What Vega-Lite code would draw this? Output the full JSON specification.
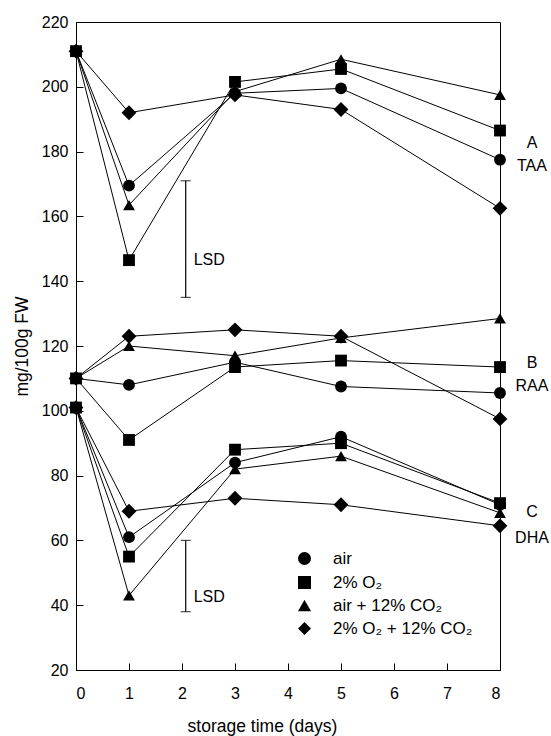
{
  "$schema": "https://vega.github.io/schema/vega-lite/v6.json",
  "width": 424,
  "height": 648,
  "autosize": {"type": "none"},
  "padding": {"left": 76, "top": 22, "right": 51, "bottom": 66},
  "background": "white",
  "config": {
    "font": "Liberation Sans",
    "view": {"stroke": "black", "strokeWidth": 1},
    "axis": {"grid": false, "domainColor": "black", "tickColor": "black", "labelColor": "black", "titleColor": "black", "titleFontWeight": "normal", "labelFontSize": 16, "titleFontSize": 17.5, "tickSize": -7},
    "legend": {"labelFontSize": 17, "labelLimit": 300}
  },
  "datasets": {
    "series": [
      {"m": "TAA", "t": "air", "day": 0, "v": 211},
      {"m": "TAA", "t": "air", "day": 1, "v": 169.5},
      {"m": "TAA", "t": "air", "day": 3, "v": 198},
      {"m": "TAA", "t": "air", "day": 5, "v": 199.5},
      {"m": "TAA", "t": "air", "day": 8, "v": 177.5},
      {"m": "TAA", "t": "2% O₂", "day": 0, "v": 211},
      {"m": "TAA", "t": "2% O₂", "day": 1, "v": 146.5},
      {"m": "TAA", "t": "2% O₂", "day": 3, "v": 201.5},
      {"m": "TAA", "t": "2% O₂", "day": 5, "v": 205.5},
      {"m": "TAA", "t": "2% O₂", "day": 8, "v": 186.5},
      {"m": "TAA", "t": "air + 12% CO₂", "day": 0, "v": 211},
      {"m": "TAA", "t": "air + 12% CO₂", "day": 1, "v": 163.5},
      {"m": "TAA", "t": "air + 12% CO₂", "day": 3, "v": 198.5},
      {"m": "TAA", "t": "air + 12% CO₂", "day": 5, "v": 208.5},
      {"m": "TAA", "t": "air + 12% CO₂", "day": 8, "v": 197.5},
      {"m": "TAA", "t": "2% O₂ + 12% CO₂", "day": 0, "v": 211},
      {"m": "TAA", "t": "2% O₂ + 12% CO₂", "day": 1, "v": 192},
      {"m": "TAA", "t": "2% O₂ + 12% CO₂", "day": 3, "v": 197.5},
      {"m": "TAA", "t": "2% O₂ + 12% CO₂", "day": 5, "v": 193},
      {"m": "TAA", "t": "2% O₂ + 12% CO₂", "day": 8, "v": 162.5},
      {"m": "RAA", "t": "air", "day": 0, "v": 110},
      {"m": "RAA", "t": "air", "day": 1, "v": 108},
      {"m": "RAA", "t": "air", "day": 3, "v": 115},
      {"m": "RAA", "t": "air", "day": 5, "v": 107.5},
      {"m": "RAA", "t": "air", "day": 8, "v": 105.5},
      {"m": "RAA", "t": "2% O₂", "day": 0, "v": 110},
      {"m": "RAA", "t": "2% O₂", "day": 1, "v": 91},
      {"m": "RAA", "t": "2% O₂", "day": 3, "v": 113.5},
      {"m": "RAA", "t": "2% O₂", "day": 5, "v": 115.5},
      {"m": "RAA", "t": "2% O₂", "day": 8, "v": 113.5},
      {"m": "RAA", "t": "air + 12% CO₂", "day": 0, "v": 110},
      {"m": "RAA", "t": "air + 12% CO₂", "day": 1, "v": 120},
      {"m": "RAA", "t": "air + 12% CO₂", "day": 3, "v": 117},
      {"m": "RAA", "t": "air + 12% CO₂", "day": 5, "v": 122.5},
      {"m": "RAA", "t": "air + 12% CO₂", "day": 8, "v": 128.5},
      {"m": "RAA", "t": "2% O₂ + 12% CO₂", "day": 0, "v": 110},
      {"m": "RAA", "t": "2% O₂ + 12% CO₂", "day": 1, "v": 123},
      {"m": "RAA", "t": "2% O₂ + 12% CO₂", "day": 3, "v": 125},
      {"m": "RAA", "t": "2% O₂ + 12% CO₂", "day": 5, "v": 123},
      {"m": "RAA", "t": "2% O₂ + 12% CO₂", "day": 8, "v": 97.5},
      {"m": "DHA", "t": "air", "day": 0, "v": 101},
      {"m": "DHA", "t": "air", "day": 1, "v": 61},
      {"m": "DHA", "t": "air", "day": 3, "v": 84},
      {"m": "DHA", "t": "air", "day": 5, "v": 92},
      {"m": "DHA", "t": "air", "day": 8, "v": 71},
      {"m": "DHA", "t": "2% O₂", "day": 0, "v": 101},
      {"m": "DHA", "t": "2% O₂", "day": 1, "v": 55},
      {"m": "DHA", "t": "2% O₂", "day": 3, "v": 88},
      {"m": "DHA", "t": "2% O₂", "day": 5, "v": 90},
      {"m": "DHA", "t": "2% O₂", "day": 8, "v": 71.5},
      {"m": "DHA", "t": "air + 12% CO₂", "day": 0, "v": 101},
      {"m": "DHA", "t": "air + 12% CO₂", "day": 1, "v": 43},
      {"m": "DHA", "t": "air + 12% CO₂", "day": 3, "v": 82},
      {"m": "DHA", "t": "air + 12% CO₂", "day": 5, "v": 86},
      {"m": "DHA", "t": "air + 12% CO₂", "day": 8, "v": 68.5},
      {"m": "DHA", "t": "2% O₂ + 12% CO₂", "day": 0, "v": 101},
      {"m": "DHA", "t": "2% O₂ + 12% CO₂", "day": 1, "v": 69},
      {"m": "DHA", "t": "2% O₂ + 12% CO₂", "day": 3, "v": 73},
      {"m": "DHA", "t": "2% O₂ + 12% CO₂", "day": 5, "v": 71},
      {"m": "DHA", "t": "2% O₂ + 12% CO₂", "day": 8, "v": 64.5}
    ],
    "lsd": [
      {"day": 2.07, "lo": 135, "hi": 171, "ty": 146.5, "label": "LSD"},
      {"day": 2.07, "lo": 38, "hi": 60, "ty": 42.6, "label": "LSD"}
    ],
    "tags": [
      {"day": 8, "v": 182.7, "label": "A"},
      {"day": 8, "v": 175.6, "label": "TAA"},
      {"day": 8, "v": 114.8, "label": "B"},
      {"day": 8, "v": 107.7, "label": "RAA"},
      {"day": 8, "v": 68.8, "label": "C"},
      {"day": 8, "v": 60.7, "label": "DHA"}
    ]
  },
  "layer": [
    {
      "data": {"name": "series"},
      "mark": {"type": "line", "color": "black", "strokeWidth": 1},
      "encoding": {
        "x": {"field": "day", "type": "quantitative", "scale": {"domain": [0, 8], "nice": false},
          "axis": {"values": [0, 1, 2, 3, 4, 5, 6, 7, 8], "title": "storage time (days)", "labelPadding": 22, "titlePadding": 16, "titleX": 186, "format": "d"}},
        "y": {"field": "v", "type": "quantitative", "scale": {"domain": [20, 220], "nice": false},
          "axis": {"values": [20, 40, 60, 80, 100, 120, 140, 160, 180, 200, 220], "title": "mg/100g FW", "labelPadding": 15, "titlePadding": 10}},
        "detail": [{"field": "m"}, {"field": "t"}]
      }
    },
    {
      "data": {"name": "series"},
      "mark": {"type": "point", "filled": true, "color": "black", "opacity": 1},
      "encoding": {
        "x": {"field": "day", "type": "quantitative"},
        "y": {"field": "v", "type": "quantitative"},
        "shape": {"field": "t", "type": "nominal",
          "scale": {"domain": ["air", "2% O₂", "air + 12% CO₂", "2% O₂ + 12% CO₂"], "range": ["circle", "square", "triangle-up", "diamond"]},
          "legend": {"title": null, "orient": "none", "legendX": 220, "legendY": 528, "labelFontSize": 17, "labelColor": "black", "labelOffset": 20, "rowPadding": 3, "padding": 0, "symbolFillColor": "black", "symbolStrokeColor": "black", "symbolSize": 170, "symbolOpacity": 1}},
        "size": {"condition": {"test": "datum.t === '2% O₂ + 12% CO₂'", "value": 220}, "value": 140}
      }
    },
    {
      "data": {"name": "lsd"},
      "mark": {"type": "rule", "color": "black", "strokeWidth": 1.2},
      "encoding": {
        "x": {"field": "day", "type": "quantitative"},
        "y": {"field": "lo", "type": "quantitative"},
        "y2": {"field": "hi"}
      }
    },
    {
      "data": {"name": "lsd"},
      "mark": {"type": "tick", "orient": "horizontal", "color": "black", "size": 10, "thickness": 1.2},
      "encoding": {
        "x": {"field": "day", "type": "quantitative"},
        "y": {"field": "lo", "type": "quantitative"}
      }
    },
    {
      "data": {"name": "lsd"},
      "mark": {"type": "tick", "orient": "horizontal", "color": "black", "size": 10, "thickness": 1.2},
      "encoding": {
        "x": {"field": "day", "type": "quantitative"},
        "y": {"field": "hi", "type": "quantitative"}
      }
    },
    {
      "data": {"name": "lsd"},
      "mark": {"type": "text", "align": "left", "baseline": "middle", "dx": 8, "fontSize": 16, "color": "black"},
      "encoding": {
        "x": {"field": "day", "type": "quantitative"},
        "y": {"field": "ty", "type": "quantitative"},
        "text": {"field": "label"}
      }
    },
    {
      "data": {"name": "tags"},
      "mark": {"type": "text", "align": "center", "baseline": "middle", "dx": 32, "fontSize": 16, "color": "black"},
      "encoding": {
        "x": {"field": "day", "type": "quantitative"},
        "y": {"field": "v", "type": "quantitative"},
        "text": {"field": "label"}
      }
    }
  ]
}
